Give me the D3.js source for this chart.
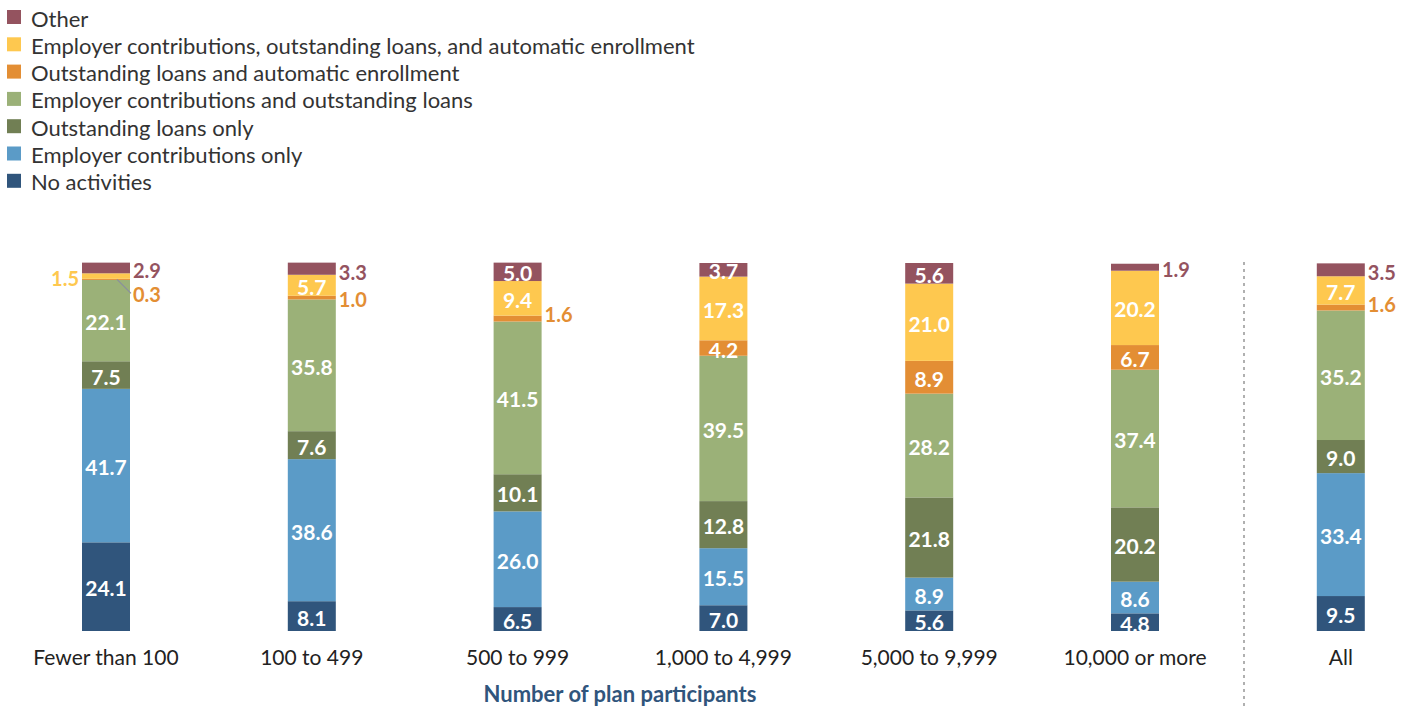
<!DOCTYPE html>
<html>
<head>
<meta charset="utf-8">
<script src="https://cdn.jsdelivr.net/npm/d3@7"></script>
<style>
  html, body { margin: 0; padding: 0; background: #fff; }
  svg { display: block; font-family: Lato, "Open Sans", sans-serif; }
</style>
</head>
<body>
<svg id="chart" width="1412" height="706"></svg>
<script>
// Plan size groups (last one is the overall total, set apart by a divider)
const categories = ["Fewer than 100", "100 to 499", "500 to 999", "1,000 to 4,999", "5,000 to 9,999", "10,000 or more", "All"];

// Stack order, bottom to top
const seriesNames = [
  "No activities",
  "Employer contributions only",
  "Outstanding loans only",
  "Employer contributions and outstanding loans",
  "Outstanding loans and automatic enrollment",
  "Employer contributions, outstanding loans, and automatic enrollment",
  "Other"
];

// Percent of plans, one value per category
const noActivities         = [24.1,  8.1,  6.5,  7.0,  5.6,  4.8,  9.5];
const employerOnly         = [41.7, 38.6, 26.0, 15.5,  8.9,  8.6, 33.4];
const loansOnly            = [ 7.5,  7.6, 10.1, 12.8, 21.8, 20.2,  9.0];
const employerAndLoans     = [22.1, 35.8, 41.5, 39.5, 28.2, 37.4, 35.2];
const loansAndEnrollment   = [ 0.3,  1.0,  1.6,  4.2,  8.9,  6.7,  1.6];
const allThree             = [ 1.5,  5.7,  9.4, 17.3, 21.0, 20.2,  7.7];
const other                = [ 2.9,  3.3,  5.0,  3.7,  5.6,  1.9,  3.5];

const seriesValues = [noActivities, employerOnly, loansOnly, employerAndLoans, loansAndEnrollment, allThree, other];

const colors = ["#30557c", "#5b9bc7", "#717f54", "#9bb178", "#e38e34", "#fec84f", "#94535f"];

// Small segments whose labels sit outside the bar
const outsideLabels = {
  "0|6": { side: "right", dy: 2 },
  "0|5": { side: "left",  dy: 2 },
  "0|4": { side: "right", dy: 15, leader: true },
  "1|6": { side: "right", dy: 3 },
  "1|4": { side: "right", dy: 1 },
  "2|4": { side: "right", dy: -5 },
  "5|6": { side: "right", dy: 2 },
  "6|6": { side: "right", dy: 2 },
  "6|4": { side: "right", dy: -4 }
};

const svg = d3.select("#chart");

// Build rows for d3.stack
const rows = categories.map((c, i) => {
  const r = { category: c };
  seriesNames.forEach((s, k) => { r[s] = seriesValues[k][i]; });
  return r;
});
const stacked = d3.stack().keys(seriesNames)(rows);

// Equal spacing between column centres
const xCenter = d3.scaleLinear().domain([0, 1]).range([106, 311.8]);
const centerOf = i => xCenter(i);
const barW = 48;

const y = d3.scaleLinear().domain([0, 100]).range([631, 263]);

const color = d3.scaleOrdinal().domain(seriesNames).range(colors);

// Bars
const layers = svg.append("g").selectAll("g")
  .data(stacked)
  .join("g")
  .attr("fill", d => color(d.key));

layers.selectAll("rect")
  .data(d => d.map((v, i) => ({ v, i })))
  .join("rect")
  .attr("x", d => centerOf(d.i) - barW / 2)
  .attr("width", barW)
  .attr("y", d => y(d.v[1]))
  .attr("height", d => y(d.v[0]) - y(d.v[1]));

// Value labels
const labelG = svg.append("g")
  .attr("font-weight", 700)
  .attr("font-size", 21);

stacked.forEach((layer, k) => {
  layer.forEach((v, i) => {
    const val = seriesValues[k][i];
    const cy = (y(v[0]) + y(v[1])) / 2;
    const cx = centerOf(i);
    const key = i + "|" + k;
    const place = outsideLabels[key];
    if (!place) {
      labelG.append("text")
        .attr("x", cx)
        .attr("y", cy + 1)
        .attr("text-anchor", "middle")
        .attr("dominant-baseline", "central")
        .attr("fill", "#fff")
        .text(val.toFixed(1));
    } else {
      const ty = cy + place.dy;
      if (place.leader) {
        svg.append("line")
          .attr("x1", cx + 11).attr("y1", cy)
          .attr("x2", cx + barW / 2 + 1).attr("y2", ty - 1)
          .attr("stroke", "#8a8f9e")
          .attr("stroke-width", 1.2);
      }
      labelG.append("text")
        .attr("x", place.side === "right" ? cx + barW / 2 + 3 : cx - barW / 2 - 3)
        .attr("y", ty)
        .attr("text-anchor", place.side === "right" ? "start" : "end")
        .attr("dominant-baseline", "central")
        .attr("font-size", 20)
        .attr("fill", colors[k])
        .text(val.toFixed(1));
    }
  });
});

// Category axis labels
svg.append("g").selectAll("text")
  .data(categories)
  .join("text")
  .attr("x", (d, i) => centerOf(i))
  .attr("y", 656)
  .attr("text-anchor", "middle")
  .attr("dominant-baseline", "central")
  .attr("font-size", 21)
  .attr("fill", "#222")
  .text(d => d);

// Axis title
svg.append("text")
  .attr("x", 620)
  .attr("y", 693)
  .attr("text-anchor", "middle")
  .attr("dominant-baseline", "central")
  .attr("font-size", 22)
  .attr("font-weight", 700)
  .attr("fill", "#30557c")
  .text("Number of plan participants");

// Divider before the overall column
svg.append("line")
  .attr("x1", 1244)
  .attr("x2", 1244)
  .attr("y1", 262)
  .attr("y2", 706)
  .attr("stroke", "#b0b0b0")
  .attr("stroke-width", 2)
  .attr("stroke-dasharray", "3,4");

// Legend, top series first
const legendOrder = seriesNames.slice().reverse();
const legend = svg.append("g").selectAll("g")
  .data(legendOrder)
  .join("g")
  .attr("transform", (d, i) => `translate(7, ${17 + i * 27.3})`);

legend.append("rect")
  .attr("x", 0).attr("y", -7)
  .attr("width", 14).attr("height", 14)
  .attr("fill", d => color(d));

legend.append("text")
  .attr("x", 24)
  .attr("y", 1)
  .attr("dominant-baseline", "central")
  .attr("font-size", 22)
  .attr("fill", "#333")
  .text(d => d);
</script>
</body>
</html>
